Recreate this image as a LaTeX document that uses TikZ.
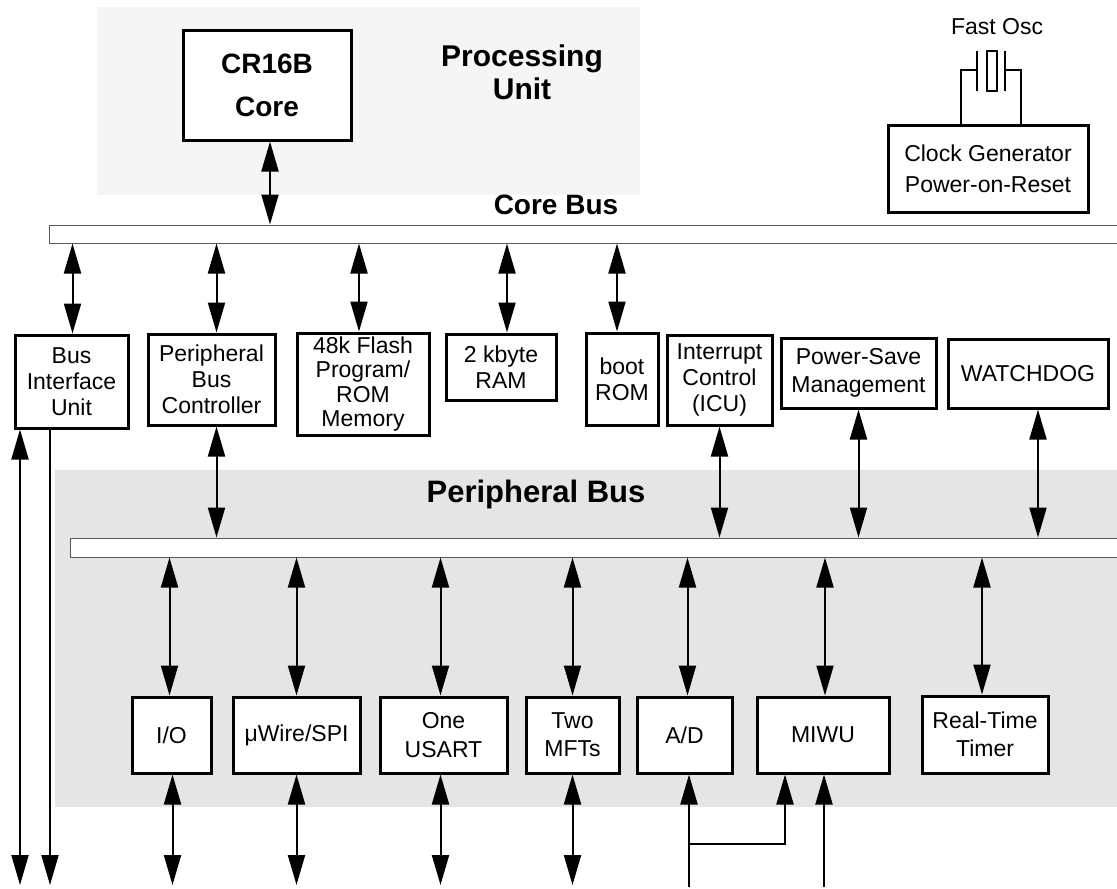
\documentclass[tikz,border=0pt]{standalone}
\usepackage{fontspec}
\setmainfont{Liberation Sans}
\usetikzlibrary{arrows.meta}

\begin{document}
\begin{tikzpicture}[x=1pt, y=-1pt,
  blk/.style={draw, line width=3pt, fill=white, align=center, inner sep=0pt, font=\fontsize{23}{26}\selectfont},
  busbar/.style={draw=black!65, line width=1pt, fill=white, inner sep=0pt},
  bidir/.style={line width=2pt, {Triangle[length=30pt,width=17pt]}-{Triangle[length=30pt,width=17pt]}},
  onearr/.style={line width=2pt, -{Triangle[length=30pt,width=17pt]}},
  wire/.style={line width=2pt},
  heading/.style={align=center, font=\fontsize{30}{33}\selectfont\bfseries}]

  \useasboundingbox (0,0) rectangle (1117,889);

  % Hintergrundflaechen
  \fill[black!4] (97,7) rectangle (640,195);
  \fill[black!10] (55,470) rectangle (1125,807);

  % Prozessor
  \node[blk, minimum width=168, minimum height=110, font=\fontsize{28}{43}\selectfont\bfseries] (core) at (267,85) {CR16B\\Core};
  \node[heading] (pu) at (522,72) {Processing\\Unit};

  % Takt
  \node[font=\fontsize{23}{26}\selectfont] (osc) at (997,27) {Fast Osc};
  \node[blk, minimum width=200, minimum height=87, font=\fontsize{23}{31}\selectfont] (clk) at (988,168.5) {Clock Generator\\Power-on-Reset};
  \draw[wire] ([xshift=-27pt]clk.north) |- (977,70);
  \draw[wire] ([xshift=33pt]clk.north) |- (1005,70);
  \draw[wire] (977,51) -- (977,91);
  \draw[wire] (1005,51) -- (1005,91);
  \draw[wire] (987,51) rectangle (997,91);

  % Busse
  \node[heading, font=\fontsize{28}{32}\selectfont\bfseries] (cbl) at (556,205) {Core Bus};
  \node[busbar, minimum width=1081, minimum height=18] (cbus) at (589.5,234) {};
  \node[heading, font=\fontsize{31}{34}\selectfont\bfseries] (pbl) at (536,494) {Peripheral Bus};
  \node[busbar, minimum width=1060, minimum height=19] (pbus) at (600,547.5) {};

  % Module am Core-Bus
  \node[blk, minimum width=113, minimum height=93] (biu) at (71.5,381.5) {Bus\\Interface\\Unit};
  \node[blk, minimum width=127, minimum height=91] (pbc) at (211.5,379.5) {Peripheral\\Bus\\Controller};
  \node[blk, minimum width=132, minimum height=102, font=\fontsize{23}{24.5}\selectfont] (flash) at (363,384) {48k Flash\\Program/\\ROM\\Memory};
  \node[blk, minimum width=110, minimum height=66] (ram) at (501,367) {2 kbyte\\RAM};
  \node[blk, minimum width=72, minimum height=92] (boot) at (622,379) {boot\\ROM};
  \node[blk, minimum width=105, minimum height=90] (icu) at (719.5,380) {Interrupt\\Control\\(ICU)};
  \node[blk, minimum width=155, minimum height=70, font=\fontsize{23}{28}\selectfont] (psm) at (858.5,373) {Power-Save\\Management};
  \node[blk, minimum width=160, minimum height=69] (wdg) at (1028,373.5) {WATCHDOG};

  % Module am Peripherie-Bus
  \node[blk, minimum width=79, minimum height=76] (io) at (171.5,735) {I/O};
  \node[blk, minimum width=127, minimum height=76] (uw) at (296.5,735) {μWire/SPI};
  \node[blk, minimum width=127, minimum height=76, font=\fontsize{23}{29}\selectfont] (usart) at (443.5,735) {One\\USART};
  \node[blk, minimum width=93, minimum height=76, font=\fontsize{23}{28}\selectfont] (mft) at (572.5,735) {Two\\MFTs};
  \node[blk, minimum width=95, minimum height=76] (ad) at (684.5,735) {A/D};
  \node[blk, minimum width=132, minimum height=76] (miwu) at (823,735) {MIWU};
  \node[blk, minimum width=126, minimum height=77, font=\fontsize{23}{28}\selectfont] (rtt) at (985,734.5) {Real-Time\\Timer};

  % Pfeile
  \draw[bidir] ([xshift=3pt]core.south) -- ([xshift=3pt]cbus.north -| core.south);
  \foreach \n/\dx in {biu/1, pbc/5, flash/-4, ram/6, boot/-5}
    \draw[bidir] ([xshift=\dx pt]cbus.south -| \n.north) -- ([xshift=\dx pt]\n.north);
  \foreach \n/\dx in {pbc/5, icu/0, psm/0, wdg/10}
    \draw[bidir] ([xshift=\dx pt]\n.south) -- ([xshift=\dx pt]pbus.north -| \n.south);
  \foreach \n/\dx in {io/-2, uw/0, usart/-3, mft/0, ad/3, miwu/2, rtt/-3}
    \draw[bidir] ([xshift=\dx pt]pbus.south -| \n.north) -- ([xshift=\dx pt]\n.north);

  % Anschluesse unten
  \coordinate (bot) at (0,885);
  \coordinate (inb) at (0,887);
  \coordinate (split) at (0,844);
  \foreach \n/\dx in {io/1, uw/0, usart/-3, mft/0}
    \draw[bidir] ([xshift=\dx pt]\n.south) -- ([xshift=\dx pt]\n.south |- bot);
  \draw[bidir] ([xshift=-51.5pt]biu.south) -- ([xshift=-51.5pt]biu.south |- bot);
  \draw[onearr] ([xshift=-21.5pt]biu.south) -- ([xshift=-21.5pt]biu.south |- bot);
  \draw[onearr] ([xshift=4.5pt]ad.south |- inb) -- ([xshift=4.5pt]ad.south);
  \draw[onearr] ([xshift=4.5pt]ad.south |- split) -| ([xshift=-38pt]miwu.south);
  \draw[onearr] ([xshift=1pt]miwu.south |- inb) -- ([xshift=1pt]miwu.south);

\end{tikzpicture}
\end{document}
